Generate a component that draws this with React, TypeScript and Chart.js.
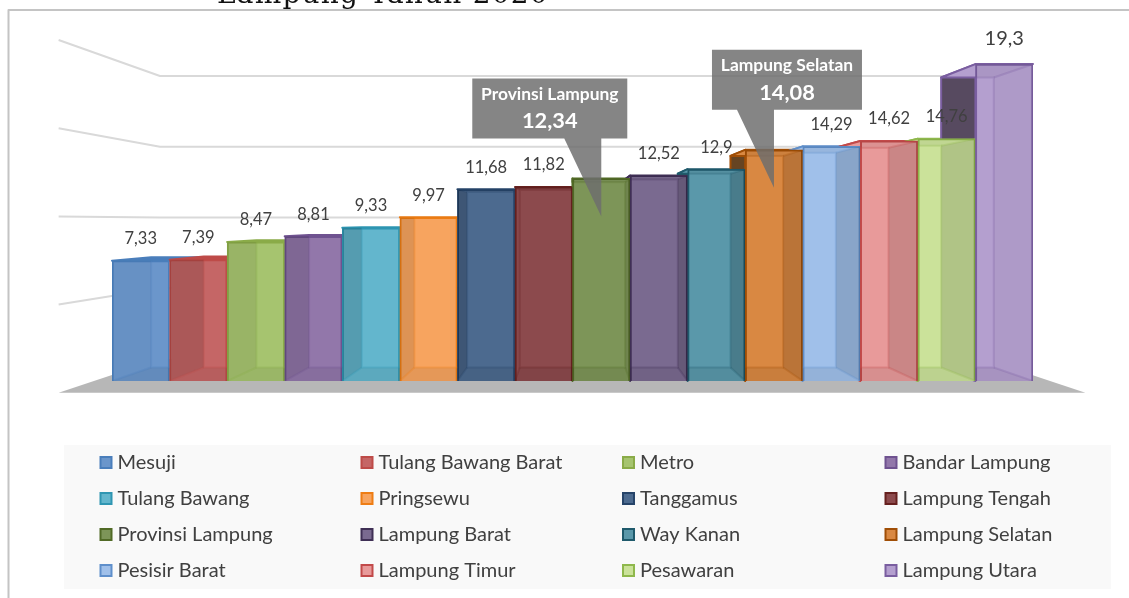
import React, { useEffect, useRef } from "react";
import { Chart, registerables } from "chart.js";

Chart.register(...registerables);

const categories = [
  "Mesuji", "Tulang Bawang Barat", "Metro", "Bandar Lampung",
  "Tulang Bawang", "Pringsewu", "Tanggamus", "Lampung Tengah",
  "Provinsi Lampung", "Lampung Barat", "Way Kanan", "Lampung Selatan",
  "Pesisir Barat", "Lampung Timur", "Pesawaran", "Lampung Utara",
];
const values = [7.33, 7.39, 8.47, 8.81, 9.33, 9.97, 11.68, 11.82, 12.34, 12.52, 12.9, 14.08, 14.29, 14.62, 14.76, 19.3];
const valueLabels = ["7,33", "7,39", "8,47", "8,81", "9,33", "9,97", "11,68", "11,82", "12,34", "12,52", "12,9", "14,08", "14,29", "14,62", "14,76", "19,3"];
const fills = [
  "#6b96cb", "#c56666", "#a6c46f", "#9277aa", "#63b6cd", "#f7a45f", "#4c6a8f", "#8c4a4d",
  "#7d9558", "#7a6a90", "#5a98aa", "#d98842", "#a0c0ea", "#e89a9a", "#cbe29a", "#b49fcf",
];
const borders = [
  "#4a7ebb", "#be4b48", "#8aab48", "#6f5290", "#2f96b2", "#ee7d14", "#264469", "#66201f",
  "#516a26", "#3f2f55", "#1f5a6c", "#a04e06", "#5f8fcb", "#c24a4a", "#8fb84c", "#7a5ea0",
];
const sideShades = [0.03, 0.13, 0.08, 0.13, 0.14, 0.1, 0.18, 0.02, 0.1, 0.16, 0.18, 0.14, 0.14, 0.13, 0.13, 0.03];
const calloutNames = ["Provinsi Lampung", "Lampung Selatan"];
const titleText = "Lampung Tahun 2020";

const FONT = "Lato";
const VP = { x: 572, y: 222 };
const S_BAR_BACK = 0.915;
const S_WALL_FRONT = 1.074;
const S_WALL_BACK = 0.862;

function poly(ctx: CanvasRenderingContext2D, pts: number[][]) {
  ctx.beginPath();
  pts.forEach((p, i) => (i ? ctx.lineTo(p[0], p[1]) : ctx.moveTo(p[0], p[1])));
  ctx.closePath();
}
const px = (x: number, s: number) => VP.x + (x - VP.x) * s;
const py = (y: number, s: number) => VP.y + (y - VP.y) * s;

function barBoxes(chart: any) {
  return chart.getDatasetMeta(0).data.map((bar: any, i: number) => {
    const l = bar.x - bar.width / 2;
    const r = bar.x + bar.width / 2;
    return {
      i, l, r, t: bar.y, b: bar.base, cx: bar.x,
      bl: px(l, S_BAR_BACK), br: px(r, S_BAR_BACK),
      bt: py(bar.y, S_BAR_BACK), bb: py(bar.base, S_BAR_BACK),
    };
  });
}

const scene3d = {
  id: "scene3d",
  beforeDatasetsDraw(chart: any) {
    const ctx: CanvasRenderingContext2D = chart.ctx;
    const y = chart.scales.y;
    ctx.save();
    ctx.lineJoin = "round";

    // title, clipped by the top of the page
    ctx.fillStyle = "#111111";
    ctx.font = '28px "DejaVu Serif"';
    ctx.textBaseline = "alphabetic";
    ctx.textAlign = "left";
    (ctx as any).letterSpacing = "1.2px";
    ctx.fillText(titleText, 217, 3);
    (ctx as any).letterSpacing = "0px";

    // frame
    ctx.strokeStyle = "#c4c4c4";
    ctx.lineWidth = 2;
    ctx.beginPath();
    ctx.moveTo(8.5, 598);
    ctx.lineTo(8.5, 10);
    ctx.lineTo(1129, 10);
    ctx.stroke();

    // floor
    const fy = y.getPixelForValue(0);
    const wallHalf = 478;
    ctx.fillStyle = "#b7b7b7";
    poly(ctx, [
      [VP.x - wallHalf * S_WALL_FRONT, py(fy, S_WALL_FRONT)],
      [VP.x + wallHalf * S_WALL_FRONT, py(fy, S_WALL_FRONT)],
      [VP.x + wallHalf * S_WALL_BACK, py(fy, S_WALL_BACK)],
      [VP.x - wallHalf * S_WALL_BACK, py(fy, S_WALL_BACK)],
    ]);
    ctx.fill();

    // gridlines on the back wall and the left wall
    ctx.strokeStyle = "#d9d9d9";
    ctx.lineWidth = 2;
    y.ticks.forEach((tick: any) => {
      if (tick.value === 0) return;
      const yy = y.getPixelForValue(tick.value);
      ctx.beginPath();
      ctx.moveTo(VP.x - wallHalf * S_WALL_FRONT, py(yy, S_WALL_FRONT));
      ctx.lineTo(VP.x - wallHalf * S_WALL_BACK, py(yy, S_WALL_BACK));
      ctx.lineTo(VP.x + wallHalf * S_WALL_BACK, py(yy, S_WALL_BACK));
      ctx.stroke();
    });

    // hidden parts of the bars: left inner faces and top faces
    barBoxes(chart).forEach((b: any) => {
      if (b.bl < b.l) {
        poly(ctx, [[b.l, b.t], [b.bl, b.bt], [b.bl, b.bb], [b.l, b.b]]);
        ctx.fillStyle = borders[b.i];
        ctx.fill();
        ctx.fillStyle = "rgba(64,62,53,0.6)";
        ctx.fill();
        ctx.strokeStyle = borders[b.i];
        ctx.lineWidth = 2;
        ctx.stroke();
      }
      poly(ctx, [[b.l, b.t], [b.r, b.t], [b.br, b.bt], [b.bl, b.bt]]);
      ctx.fillStyle = b.bt < b.t ? borders[b.i] : fills[b.i];
      ctx.fill();
      ctx.strokeStyle = borders[b.i];
      ctx.lineWidth = 2;
      ctx.stroke();
    });
    ctx.restore();
  },
  afterDatasetsDraw(chart: any) {
    const ctx: CanvasRenderingContext2D = chart.ctx;
    const boxes = barBoxes(chart);
    ctx.save();

    boxes.forEach((b: any) => {
      // shaded side faces seen through the front
      ctx.save();
      ctx.beginPath();
      ctx.rect(b.l, b.t, b.r - b.l, b.b - b.t);
      ctx.clip();
      ctx.fillStyle = `rgba(0,0,0,${sideShades[b.i]})`;
      if (b.bl > b.l) {
        poly(ctx, [[b.l, b.t], [b.bl, b.bt], [b.bl, b.bb], [b.l, b.b]]);
        ctx.fill();
      }
      if (b.br < b.r) {
        poly(ctx, [[b.r, b.t], [b.br, b.bt], [b.br, b.bb], [b.r, b.b]]);
        ctx.fill();
      }
      // floor of the bar
      ctx.fillStyle = "rgba(0,0,0,0.07)";
      poly(ctx, [[b.l, b.b], [b.r, b.b], [b.br, b.bb], [b.bl, b.bb]]);
      ctx.fill();
      // top of the bar seen from below
      if (b.bt > b.t) {
        ctx.fillStyle = "rgba(0,0,0,0.05)";
        poly(ctx, [[b.l, b.t], [b.r, b.t], [b.br, b.bt], [b.bl, b.bt]]);
        ctx.fill();
      }
      // edges of the back face and the depth edges
      ctx.strokeStyle = borders[b.i];
      ctx.globalAlpha = 0.28;
      ctx.lineWidth = 2;
      ctx.strokeRect(b.bl, b.bt, b.br - b.bl, b.bb - b.bt);
      ctx.beginPath();
      [[b.l, b.t, b.bl, b.bt], [b.r, b.t, b.br, b.bt], [b.l, b.b, b.bl, b.bb], [b.r, b.b, b.br, b.bb]].forEach((s) => {
        ctx.moveTo(s[0], s[1]);
        ctx.lineTo(s[2], s[3]);
      });
      ctx.stroke();
      ctx.globalAlpha = 1;
      ctx.restore();
    });

    // value labels
    ctx.textAlign = "center";
    ctx.textBaseline = "middle";
    boxes.forEach((b: any) => {
      const name = categories[b.i];
      if (calloutNames.includes(name)) return;
      const big = values[b.i] === Math.max(...values);
      ctx.fillStyle = "#404040";
      ctx.font = `${big ? 20 : 16.5}px ${FONT}`;
      ctx.fillText(valueLabels[b.i], b.cx, b.t - (big ? 26 : 22));
    });

    // callouts
    boxes.forEach((b: any) => {
      const name = categories[b.i];
      if (!calloutNames.includes(name)) return;
      const boxW = name === "Provinsi Lampung" ? 155 : 150;
      const boxL = name === "Provinsi Lampung" ? b.cx - 129 : b.cx - 62;
      const boxT = b.t - 100;
      const boxB = boxT + 60;
      const tipY = b.t + 38;
      ctx.fillStyle = "rgba(110,110,110,0.84)";
      poly(ctx, [
        [boxL, boxT], [boxL + boxW, boxT], [boxL + boxW, boxB],
        [b.cx, boxB], [b.cx, tipY], [b.cx - 37, boxB], [boxL, boxB],
      ]);
      ctx.fill();
      ctx.fillStyle = "#ffffff";
      ctx.font = `bold 17.4px ${FONT}`;
      ctx.fillText(name, boxL + boxW / 2, boxT + 16);
      ctx.font = `bold 21.8px ${FONT}`;
      ctx.fillText(valueLabels[b.i], boxL + boxW / 2, boxT + 43);
    });

    // legend, four columns
    const colSwatch = [99.5, 360.5, 622, 884.5];
    const rowMid = [463, 499, 535, 571];
    ctx.fillStyle = "#f9f9f9";
    ctx.fillRect(64, 445, 1047, 144);
    ctx.textAlign = "left";
    ctx.font = `20px ${FONT}`;
    categories.forEach((name, i) => {
      const sx = colSwatch[i % 4];
      const my = rowMid[Math.floor(i / 4)];
      ctx.fillStyle = fills[i];
      ctx.strokeStyle = borders[i];
      ctx.lineWidth = 2;
      ctx.fillRect(sx + 1, my - 6, 11, 11);
      ctx.strokeRect(sx + 1, my - 6, 11, 11);
      ctx.fillStyle = "#404040";
      ctx.fillText(name, sx + 18, my);
    });
    ctx.restore();
  },
};

export default function App() {
  const ref = useRef<HTMLCanvasElement>(null);
  useEffect(() => {
    const chart = new Chart(ref.current as HTMLCanvasElement, {
      type: "bar",
      data: {
        labels: categories,
        datasets: [{
          data: values,
          backgroundColor: fills,
          borderColor: borders,
          borderWidth: 2,
          barPercentage: 1,
          categoryPercentage: 1,
        }],
      },
      options: {
        responsive: false,
        animation: false,
        devicePixelRatio: 1,
        layout: { padding: { left: 112, right: 96, top: 52.6, bottom: 217 } },
        plugins: { legend: { display: false }, title: { display: false }, tooltip: { enabled: false } },
        scales: {
          x: { display: false },
          y: { display: false, min: 0, max: 20, ticks: { stepSize: 5 } },
        },
      },
      plugins: [scene3d],
    } as any);
    return () => chart.destroy();
  }, []);
  return (
    <canvas
      ref={ref}
      width={1129}
      height={598}
      style={{ position: "absolute", left: 0, top: 0, display: "block", background: "#ffffff" }}
    />
  );
}
